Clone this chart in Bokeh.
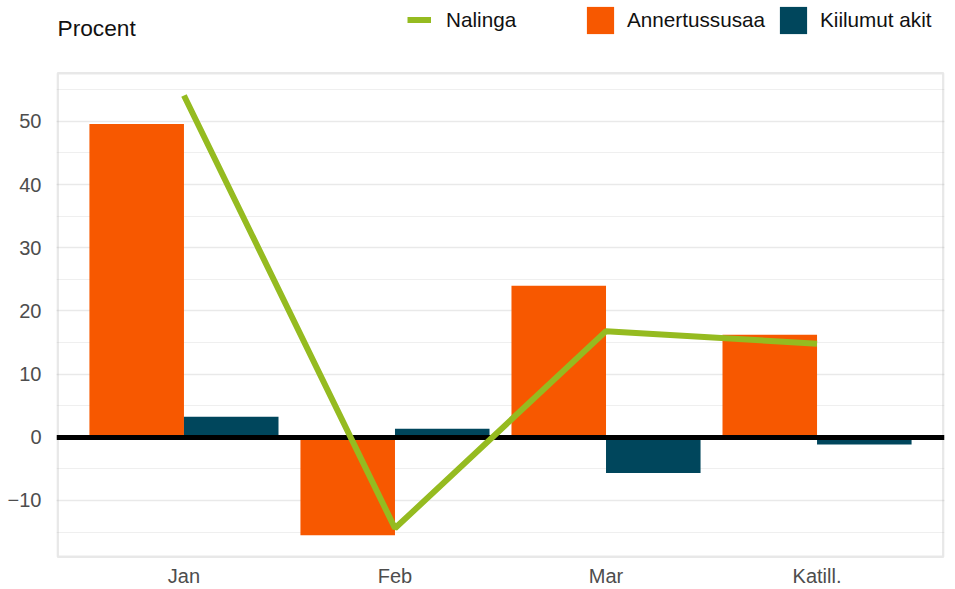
from bokeh.plotting import figure
from bokeh.models import (FactorRange, Range1d, Legend, LegendItem, Label, BoxAnnotation,
                          SingleIntervalTicker, ColumnDataSource)
from bokeh.transform import dodge
from bokeh.embed import file_html
from bokeh.resources import INLINE

categories = ["Jan", "Feb", "Mar", "Katill."]
annertussusaa = [49.6, -15.5, 24.0, 16.25]
kiilumut_akit = [3.25, 1.35, -5.65, -1.15]
nalinga = [54.1, -14.4, 16.8, 14.8]
y_ticks = [-10, 0, 10, 20, 30, 40, 50]
y_tick_labels = ["\u221210", "0", "10", "20", "30", "40", "50"]

# visible value window of the plot box, and the extra head room used for title/legend
Y_MIN, Y_MAX, Y_HEAD = -19.18, 57.6, 69.13

ORANGE = "#F75800"
TEAL = "#00465C"
GREEN = "#95BB20"
FONT = "Liberation Sans"

src = ColumnDataSource(dict(cat=categories, a=annertussusaa, k=kiilumut_akit, n=nalinga))

p = figure(
    x_range=FactorRange(*categories, range_padding=0.104, range_padding_units="absolute"),
    y_range=Range1d(Y_MIN, Y_HEAD),
    width=955, height=589,
    output_backend="svg", toolbar_location=None,
    min_border_left=56, min_border_right=11, min_border_top=0, min_border_bottom=30,
)

r_a = p.vbar(x=dodge("cat", -0.224, range=p.x_range), top="a", bottom=0, width=0.448,
             source=src, fill_color=ORANGE, line_color=None)
r_k = p.vbar(x=dodge("cat", 0.224, range=p.x_range), top="k", bottom=0, width=0.448,
             source=src, fill_color=TEAL, line_color=None)
p.hspan(y=[0], line_width=5, line_color="black")
r_n = p.line(x="cat", y="n", source=src, line_width=6, line_color=GREEN)

# axes
p.yaxis.ticker = SingleIntervalTicker(interval=10, num_minor_ticks=2)
p.yaxis.major_label_overrides = dict(zip(y_ticks, y_tick_labels))
p.yaxis.bounds = (Y_MIN, Y_MAX)
for ax in (p.xaxis[0], p.yaxis[0]):
    ax.axis_line_color = None
    ax.major_tick_line_color = None
    ax.minor_tick_line_color = None
    ax.major_label_text_font = FONT
    ax.major_label_text_font_size = "20px"
    ax.major_label_text_color = "#4D4D4D"
p.yaxis.major_label_standoff = 9
p.xaxis.major_label_standoff = 0

p.xgrid.visible = False
p.ygrid.bounds = (Y_MIN, Y_MAX)
p.ygrid.grid_line_color = "#E9E9E9"
p.ygrid.grid_line_width = 1.5
p.ygrid.minor_grid_line_color = "#EFEFEF"
p.ygrid.minor_grid_line_width = 1.2

p.outline_line_color = None
p.background_fill_color = "white"
p.border_fill_color = "white"

# plot box
p.add_layout(BoxAnnotation(left=1.2, right=886.8, left_units="screen", right_units="screen",
                           bottom=1.7, bottom_units="screen", top=Y_MAX,
                           fill_alpha=0, line_color="#B4B4B4", line_width=2.5, level="underlay"))

# title
p.add_layout(Label(x=1, y=531, x_units="screen", y_units="screen", text="Procent",
                   text_font=FONT, text_font_size="22.7px", text_baseline="middle",
                   text_align="left", text_color="#111111"))

# legends
common = dict(orientation="horizontal", label_text_font=FONT,
              label_text_font_size="20.7px", label_text_color="#111111",
              border_line_color=None, background_fill_alpha=0, padding=0, margin=0)
leg_line = Legend(items=[LegendItem(label="Nalinga", renderers=[r_n])],
                  location=(351, 525), glyph_width=24, glyph_height=27,
                  label_standoff=15, **common)
leg_bars = Legend(items=[LegendItem(label="Annertussusaa", renderers=[r_a]),
                         LegendItem(label="Kiilumut akit", renderers=[r_k])],
                  location=(527, 521), glyph_width=34, glyph_height=34,
                  label_width=142, label_standoff=10, spacing=7, **common)
p.add_layout(leg_line, "center")
p.add_layout(leg_bars, "center")

open("out.html", "w").write(file_html(p, INLINE))
